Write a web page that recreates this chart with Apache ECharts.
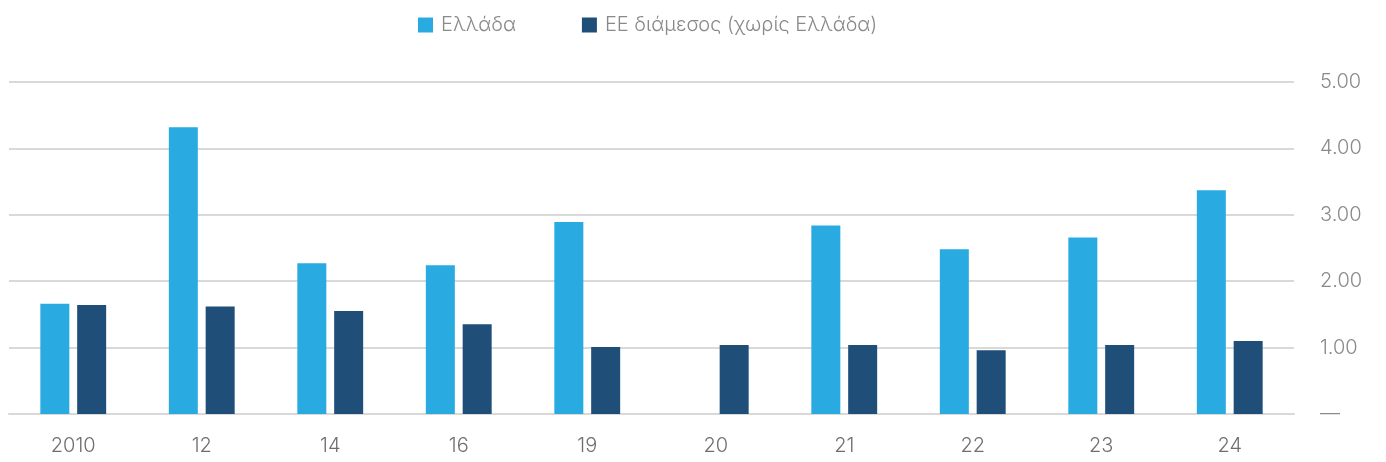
<!DOCTYPE html>
<html><head><meta charset="utf-8">
<script src="https://cdn.jsdelivr.net/npm/echarts@6/dist/echarts.min.js"></script>
<style>html,body{margin:0;padding:0;background:#fff}#c{width:1386px;height:462px}</style>
</head><body><div id="c"></div>
<script>
const categories = ['2010','12','14','16','19','20','21','22','23','24'];
const greece = [1.66, 4.32, 2.27, 2.24, 2.89, null, 2.84, 2.48, 2.66, 3.37];
const euAvg = [1.64, 1.62, 1.55, 1.35, 1.01, 1.04, 1.04, 0.96, 1.04, 1.10];
const seriesNames = ['Ελλάδα', 'ΕΕ διάμεσος (χωρίς Ελλάδα)'];

const chart = echarts.init(document.getElementById('c'));
const font = 'Inter, "Open Sans", sans-serif';
chart.setOption({
  animation: false,
  textStyle: { fontFamily: font, fontWeight: 300 },
  legend: {
    top: 10, left: 413,
    itemWidth: 15, itemHeight: 15, itemGap: 66,
    icon: 'rect',
    textStyle: { fontSize: 20, color: '#8a8a8a', fontFamily: font, fontWeight: 300, padding: [0,0,0,3] },
    data: seriesNames
  },
  grid: { left: 9, right: 92, top: 82, bottom: 48, containLabel: false },
  xAxis: {
    type: 'category', data: categories,
    axisLine: { show: true, lineStyle: { color: '#d9d9d9', width: 2 } },
    axisTick: { show: false },
    axisLabel: { fontSize: 20, color: '#6f6f6f', margin: 22, fontWeight: 300, fontFamily: font }
  },
  yAxis: {
    type: 'value', position: 'right', min: 0, max: 5, interval: 1,
    axisLine: { show: false }, axisTick: { show: false },
    splitLine: { lineStyle: { color: '#d9d9d9', width: 2 } },
    axisLabel: {
      fontSize: 20, color: '#8a8a8a', margin: 26, align: 'left', fontWeight: 300, fontFamily: font,
      formatter: v => v === 0 ? '—' : v.toFixed(2)
    }
  },
  series: [
    { name: seriesNames[0], type: 'bar', data: greece, barWidth: 29, barGap: '27%',
      itemStyle: { color: '#29ABE2' } },
    { name: seriesNames[1], type: 'bar', data: euAvg, barWidth: 29,
      itemStyle: { color: '#1F4E79' } }
  ]
});
</script></body></html>
